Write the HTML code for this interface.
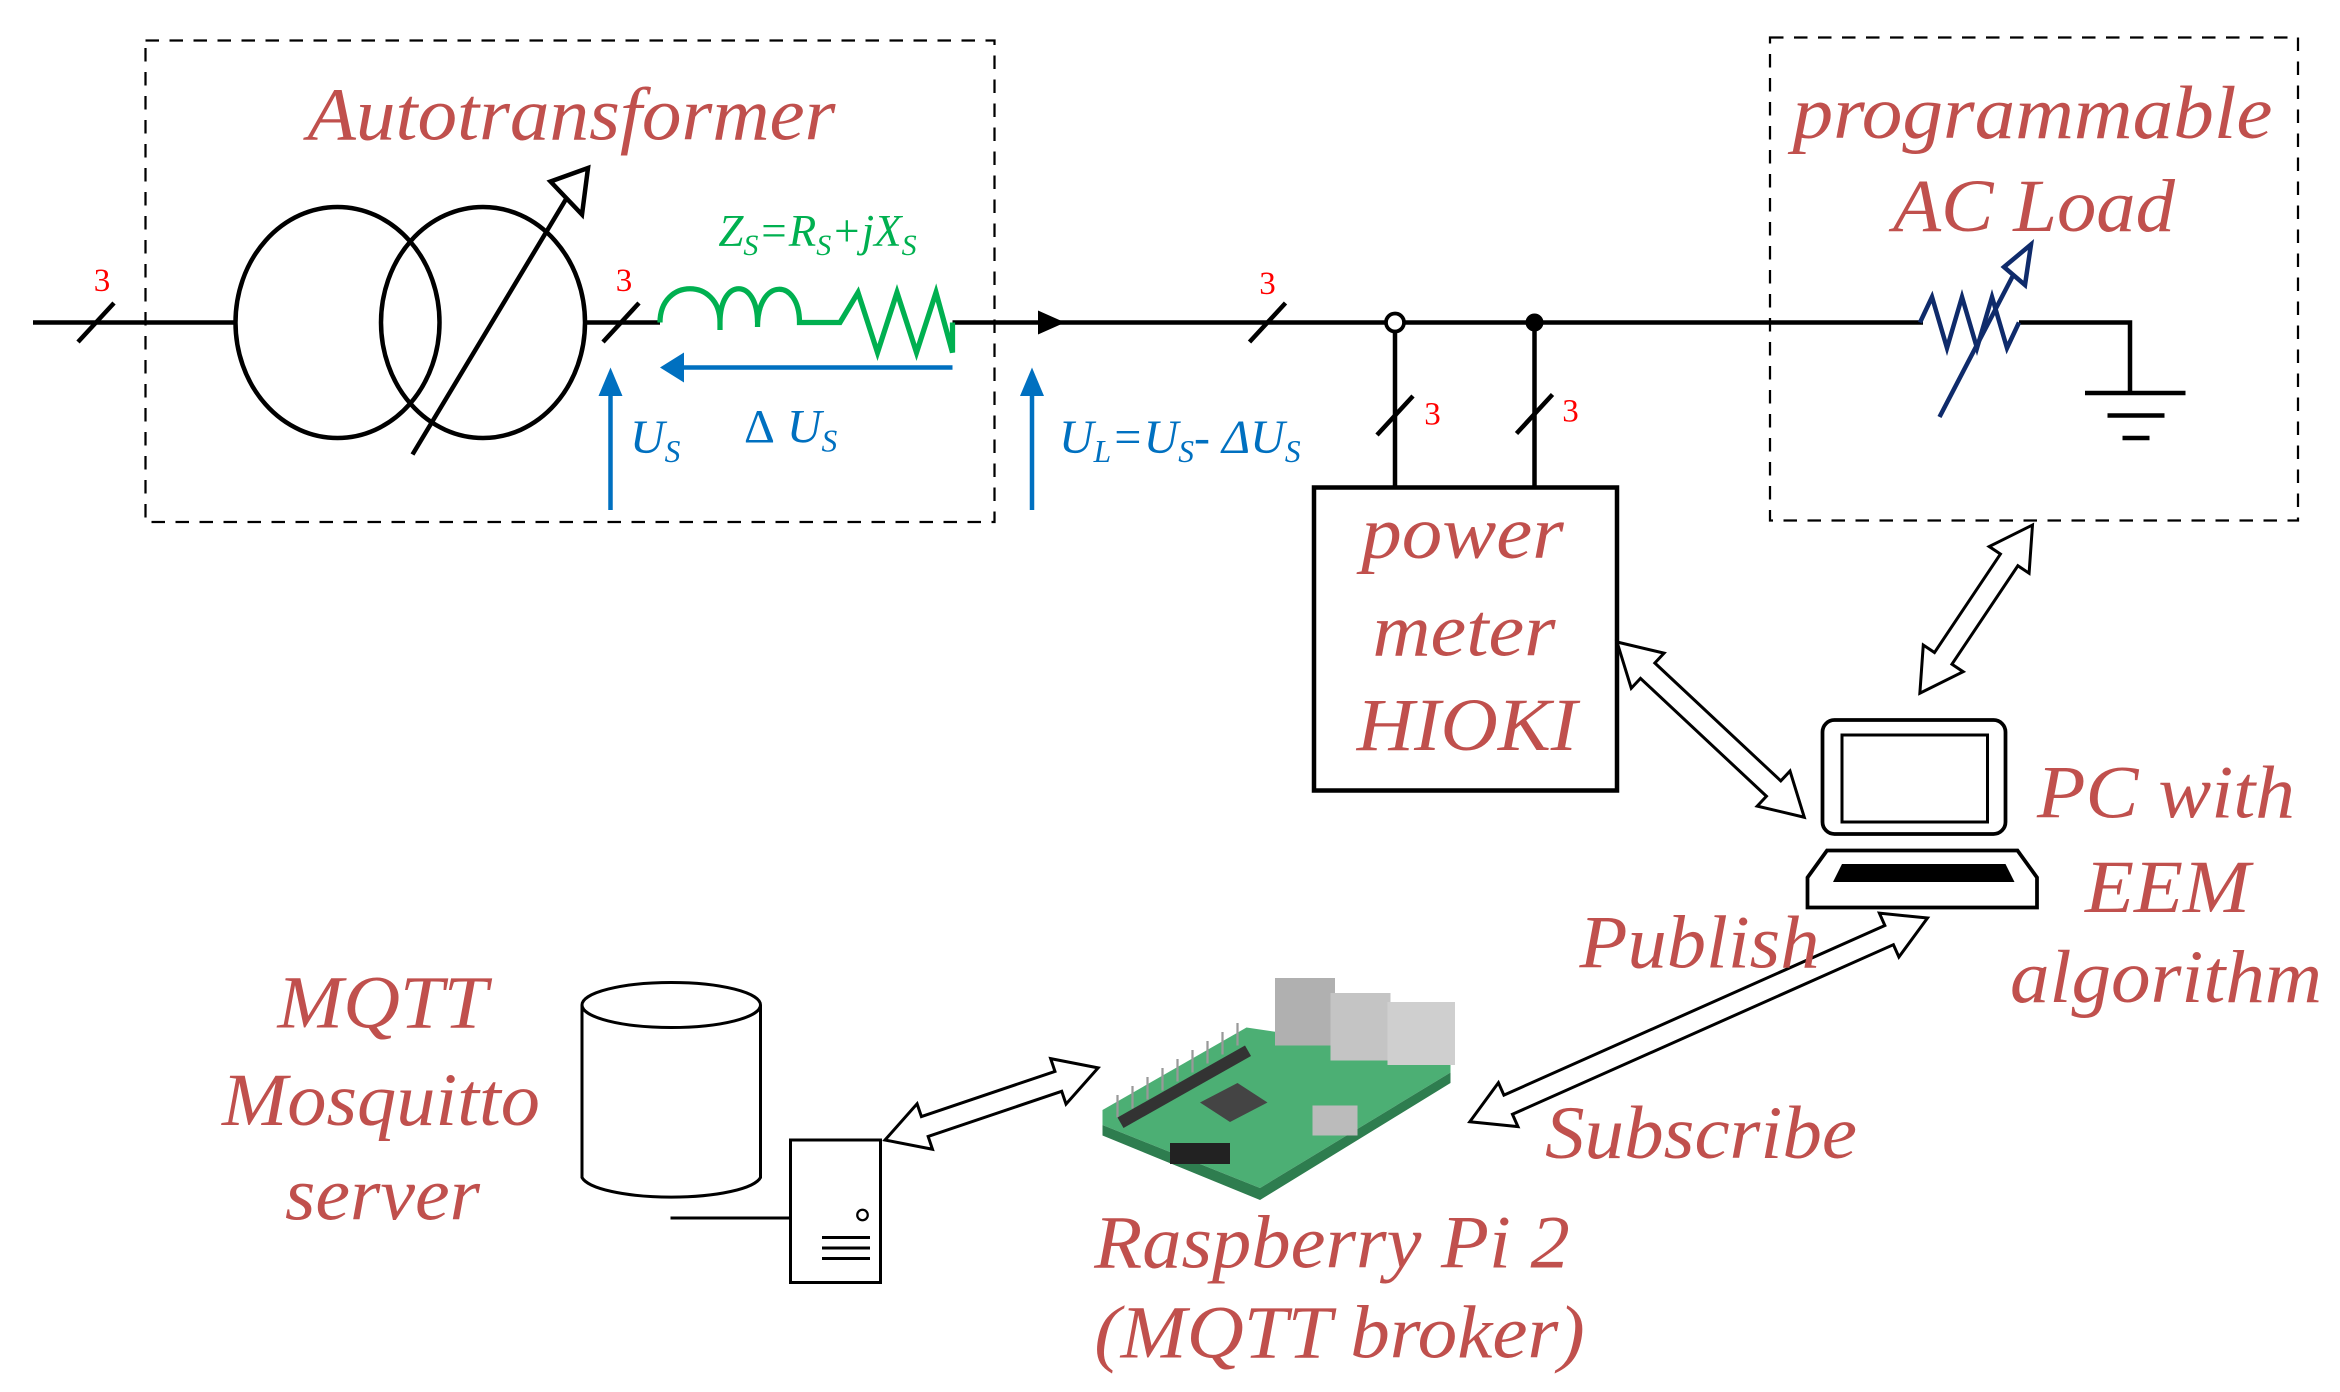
<!DOCTYPE html>
<html><head><meta charset="utf-8"><style>
html,body{margin:0;padding:0;background:#fff}
svg{display:block}
.t{font-family:"Liberation Serif",serif;font-style:italic;fill:#c0504d;font-size:50px;text-anchor:middle}
</style></head><body>
<svg width="2340" height="1392" viewBox="0 0 1560 928" xmlns="http://www.w3.org/2000/svg">
<rect x="97" y="27" width="566" height="321" fill="none" stroke="#000" stroke-width="1.5" stroke-dasharray="9,7"/>
<rect x="1180" y="25" width="352" height="322" fill="none" stroke="#000" stroke-width="1.5" stroke-dasharray="9,7"/>
<text class="t" x="381" y="93" textLength="352" lengthAdjust="spacingAndGlyphs">Autotransformer</text>
<text class="t" x="1355" y="92" textLength="320" lengthAdjust="spacingAndGlyphs">programmable</text>
<text class="t" x="1356" y="154" textLength="188" lengthAdjust="spacingAndGlyphs">AC Load</text>
<g stroke="#000" stroke-width="3" fill="none">
<line x1="22" y1="215" x2="157" y2="215"/>
<line x1="391" y1="215" x2="440" y2="215"/>
<line x1="635" y1="215" x2="1282" y2="215"/>
<polyline points="1346,215 1420,215 1420,262"/>
<ellipse cx="225" cy="215" rx="68" ry="77"/>
<ellipse cx="322" cy="215" rx="68" ry="77"/>
<line x1="275" y1="303" x2="382" y2="125"/>
<line x1="930" y1="215" x2="930" y2="325"/>
<line x1="1023" y1="215" x2="1023" y2="325"/>
<line x1="52" y1="228" x2="76" y2="202"/>
<line x1="402" y1="228" x2="426" y2="202"/>
<line x1="833" y1="228" x2="857" y2="202"/>
<line x1="918" y1="290" x2="942" y2="264"/>
<line x1="1011" y1="289" x2="1035" y2="263"/>
<line x1="1390" y1="262" x2="1457" y2="262"/>
<line x1="1405" y1="277" x2="1443" y2="277"/>
<line x1="1415" y1="292" x2="1433" y2="292"/>
</g>
<polygon points="367,121 392,112 388,143" fill="#fff" stroke="#000" stroke-width="3"/>
<polygon points="692,207 710,215 692,223" fill="#000"/>
<circle cx="930" cy="215" r="6" fill="#fff" stroke="#000" stroke-width="2.5"/>
<circle cx="1023" cy="215" r="6" fill="#000"/>
<g font-family="Liberation Serif,serif" font-size="22" fill="#f00" text-anchor="middle">
<text x="68" y="194">3</text><text x="416" y="194">3</text><text x="845" y="196">3</text>
<text x="955" y="283">3</text><text x="1047" y="281">3</text>
</g>
<path d="M440,215 C440,185 480,185 480,215 L480,220 M480,215 C480,185 505,185 505,215 M505,218 C505,185 533,185 533,215 L560,215 L572,195 L585,235 L598,195 L611,235 L624,195 L635,235 L635,215" fill="none" stroke="#00b050" stroke-width="3.5"/>
<text x="545" y="164" font-family="Liberation Serif,serif" font-style="italic" font-size="30" fill="#00b050" text-anchor="middle">Z<tspan font-size="20" dy="6">S</tspan><tspan dy="-6">=R</tspan><tspan font-size="20" dy="6">S</tspan><tspan dy="-6">+jX</tspan><tspan font-size="20" dy="6">S</tspan></text>
<g stroke="#0070c0" stroke-width="3" fill="none">
<line x1="635" y1="245" x2="455" y2="245"/>
<line x1="407" y1="340" x2="407" y2="258"/>
<line x1="688" y1="340" x2="688" y2="258"/>
</g>
<g fill="#0070c0">
<polygon points="440,245 456,235 456,255"/>
<polygon points="407,245 399,264 415,264"/>
<polygon points="688,245 680,264 696,264"/>
</g>
<g font-family="Liberation Serif,serif" font-style="italic" font-size="32" fill="#0070c0">
<text x="420" y="302">U<tspan font-size="21" dy="6">S</tspan></text>
<text x="496" y="295"><tspan font-style="normal">Δ</tspan> U<tspan font-size="21" dy="6">S</tspan></text>
<text x="706" y="302">U<tspan font-size="21" dy="6">L</tspan><tspan dy="-6">=U</tspan><tspan font-size="21" dy="6">S</tspan><tspan dy="-6">- ΔU</tspan><tspan font-size="21" dy="6">S</tspan></text>
</g>
<polyline points="1280,215 1288,198 1298,232 1308,198 1318,232 1328,198 1338,232 1346,215" fill="none" stroke="#0f2b6b" stroke-width="3"/>
<line x1="1293" y1="278" x2="1346" y2="176" stroke="#0f2b6b" stroke-width="3"/>
<polygon points="1336,178 1354,163 1350,190" fill="#fff" stroke="#0f2b6b" stroke-width="3"/>
<rect x="876" y="325" width="202" height="202" fill="none" stroke="#000" stroke-width="3"/>
<text class="t" x="975" y="372" textLength="135" lengthAdjust="spacingAndGlyphs">power</text>
<text class="t" x="976" y="437" textLength="122" lengthAdjust="spacingAndGlyphs">meter</text>
<text class="t" x="978" y="500" textLength="147" lengthAdjust="spacingAndGlyphs">HIOKI</text>
<rect x="1215" y="480" width="122" height="76" rx="8" fill="#fff" stroke="#000" stroke-width="2.5"/>
<rect x="1228" y="490" width="97" height="58" fill="none" stroke="#000" stroke-width="2"/>
<polygon points="1218,567 1345,567 1358,585 1358,605 1205,605 1205,585" fill="#fff" stroke="#000" stroke-width="2.5"/>
<polygon points="1228,576 1337,576 1343,588 1222,588" fill="#000"/>
<text class="t" x="1444" y="545" textLength="172" lengthAdjust="spacingAndGlyphs">PC with</text>
<text class="t" x="1445" y="608" textLength="110" lengthAdjust="spacingAndGlyphs">EEM</text>
<text class="t" x="1444" y="668" textLength="208" lengthAdjust="spacingAndGlyphs">algorithm</text>
<g fill="#fff" stroke="#000" stroke-width="2">
<g transform="translate(1355,350) rotate(123.8)"><polygon points="0,0 28,-16 28,-7 107,-7 107,-16 135,0 107,16 107,7 28,7 28,16"/></g>
<g transform="translate(1078,428) rotate(43.1)"><polygon points="0,0 28,-16 28,-7 143,-7 143,-16 171,0 143,16 143,7 28,7 28,16"/></g>
<g transform="translate(1285,612) rotate(156)"><polygon points="0,0 28,-16 28,-7 306,-7 306,-16 334,0 306,16 306,7 28,7 28,16"/></g>
<g transform="translate(590,760) rotate(-18.7)"><polygon points="0,0 28,-16 28,-7 122,-7 122,-16 150,0 122,16 122,7 28,7 28,16"/></g>
</g>
<text class="t" x="1133" y="645" textLength="160" lengthAdjust="spacingAndGlyphs">Publish</text>
<text class="t" x="1134" y="772" textLength="208" lengthAdjust="spacingAndGlyphs">Subscribe</text>
<!-- raspberry pi -->
<polygon points="735,740 831,685 967,705 967,715 840,792 735,750" fill="#4caf74"/>
<polygon points="735,750 840,792 967,715 967,722 840,800 735,757" fill="#2e7d4f"/>
<g stroke="#999" stroke-width="1.5">
<line x1="745" y1="745" x2="745" y2="730"/><line x1="755" y1="739" x2="755" y2="724"/><line x1="765" y1="733" x2="765" y2="718"/><line x1="775" y1="727" x2="775" y2="712"/><line x1="785" y1="721" x2="785" y2="706"/><line x1="795" y1="715" x2="795" y2="700"/><line x1="805" y1="709" x2="805" y2="694"/><line x1="815" y1="703" x2="815" y2="688"/><line x1="825" y1="697" x2="825" y2="682"/>
</g>
<polygon points="745,745 830,697 834,704 749,752" fill="#333"/>
<rect x="850" y="652" width="40" height="45" fill="#b0b0b0"/>
<rect x="887" y="662" width="40" height="45" fill="#c4c4c4"/>
<rect x="925" y="668" width="45" height="42" fill="#cfcfcf"/>
<polygon points="800,735 825,722 845,735 820,748" fill="#444"/>
<rect x="875" y="737" width="30" height="20" fill="#bbb"/>
<rect x="780" y="762" width="40" height="14" fill="#222"/>
<text class="t" x="888" y="845" textLength="317" lengthAdjust="spacingAndGlyphs">Raspberry Pi 2</text>
<text class="t" x="893" y="905" textLength="327" lengthAdjust="spacingAndGlyphs">(MQTT broker)</text>
<path d="M388,670 L388,785 A60,15 0 0 0 507,785 L507,670" fill="#fff" stroke="#000" stroke-width="2"/>
<ellipse cx="447.5" cy="670" rx="59.5" ry="15" fill="#fff" stroke="#000" stroke-width="2"/>
<line x1="447" y1="812" x2="527" y2="812" stroke="#000" stroke-width="2"/>
<rect x="527" y="760" width="60" height="95" fill="#fff" stroke="#000" stroke-width="2"/>
<circle cx="575" cy="810" r="3.5" fill="none" stroke="#000" stroke-width="1.5"/>
<g stroke="#000" stroke-width="2"><line x1="548" y1="825" x2="580" y2="825"/><line x1="548" y1="832" x2="580" y2="832"/><line x1="548" y1="839" x2="580" y2="839"/></g>
<text class="t" x="255" y="685" textLength="140" lengthAdjust="spacingAndGlyphs">MQTT</text>
<text class="t" x="254" y="750" textLength="212" lengthAdjust="spacingAndGlyphs">Mosquitto</text>
<text class="t" x="255" y="813" textLength="130" lengthAdjust="spacingAndGlyphs">server</text>
</svg>
</body></html>
